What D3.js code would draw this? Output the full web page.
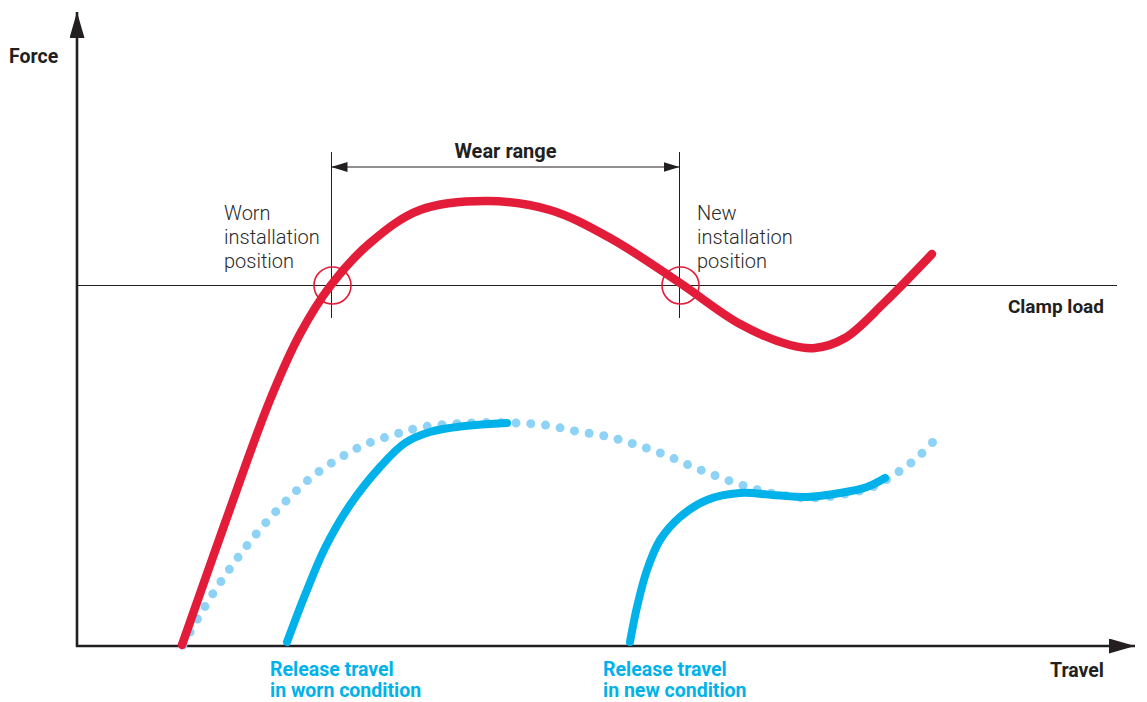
<!DOCTYPE html>
<html><head><meta charset="utf-8">
<script src="https://cdn.jsdelivr.net/npm/d3@7"></script>
<style>
html,body{margin:0;padding:0;background:#fff;}
text{font-family:Roboto,"Open Sans",sans-serif;}
</style></head>
<body>
<svg id="chart" width="1147" height="702"></svg>
<script>
// Values (arbitrary travel / force units)
const clampForceCurve = [[10.5,0.1],[14.8,12.3],[19.3,24.6],[22.3,31.2],[25.4,36.1],[29.3,40.3],[34.3,43.6],[41.0,44.5],[47.3,43.6],[53.3,40.8],[60.3,36.3],[66.3,32.2],[71.3,30.1],[73.8,29.8],[76.8,30.8],[80.8,34.4],[85.5,39.2]];
const releaseWorn = [[21.0,0.4],[22.8,5.1],[24.8,9.8],[27.3,14.1],[30.3,17.9],[32.8,20.3],[35.3,21.4],[38.8,22.0],[43.0,22.3]];
const releaseNew = [[55.3,0.4],[56.0,3.9],[57.0,7.6],[58.3,10.6],[60.3,12.9],[63.0,14.6],[66.3,15.3],[69.6,15.1],[73.0,14.9],[76.3,15.3],[79.0,15.9],[80.8,16.8]];
const releaseFull = [[10.6,0.1],[12.1,2.8],[13.7,5.4],[15.4,7.9],[17.2,10.3],[19.2,12.7],[21.3,14.9],[23.6,17.0],[26.1,18.7],[28.7,20.1],[31.6,21.1],[34.6,21.9],[39.3,22.3],[43.8,22.3],[46.8,22.1],[49.8,21.5],[52.8,21.0],[55.7,20.2],[58.6,19.2],[61.4,18.0],[64.2,16.9],[67.1,15.9],[69.8,15.2],[73.3,14.8],[76.8,15.2],[79.8,16.0],[81.8,17.2],[83.0,18.0],[84.2,19.0],[85.6,20.4]];
const clampLoad = 36.05;
const wearRange = [25.45, 60.25];
const wearMarkTop = 49.4, wearMarkBottom = 32.8, wearArrowLevel = 47.9;
const axisTitles = {x:"Travel", y:"Force"};
const labelClamp = "Clamp load";
const labelWear = "Wear range";
const labelWorn = ["Worn","installation","position"];
const labelNew = ["New","installation","position"];
const labelRelWorn = ["Release travel","in worn condition"];
const labelRelNew = ["Release travel","in new condition"];

const RED="#e31c39", BLUE="#00b2e9", LBLUE="#8ed3f5", INK="#231f20";
const svg = d3.select("#chart");
const x = d3.scaleLinear().domain([0,105.8]).range([77,1135]);
const y = d3.scaleLinear().domain([0,63.4]).range([646,12]);

const defs = svg.append("defs");
function marker(id, w, h){
  defs.append("marker").attr("id",id).attr("viewBox",`0 0 ${w} ${h}`)
    .attr("refX",w).attr("refY",h/2).attr("markerWidth",w).attr("markerHeight",h)
    .attr("markerUnits","userSpaceOnUse").attr("orient","auto-start-reverse")
    .append("path").attr("d",`M0,0L${w},${h/2}L0,${h}Z`).attr("fill",INK);
}
marker("axArrow",26,15);
marker("smArrow",16,10);

// axes
svg.append("line").attr("x1",x(0)).attr("y1",y(0)+1).attr("x2",x(0)).attr("y2",y(63.4))
  .attr("stroke",INK).attr("stroke-width",2.6).attr("marker-end","url(#axArrow)");
svg.append("line").attr("x1",x(0)-1).attr("y1",y(0)).attr("x2",x(105.8)).attr("y2",y(0))
  .attr("stroke",INK).attr("stroke-width",2.6).attr("marker-end","url(#axArrow)");

// clamp load line
svg.append("line").attr("x1",x(0)).attr("x2",x(104)).attr("y1",y(clampLoad)).attr("y2",y(clampLoad))
  .attr("stroke",INK).attr("stroke-width",1.2);

// wear range markers
wearRange.forEach(v=>{
  svg.append("line").attr("x1",x(v)).attr("x2",x(v)).attr("y1",y(wearMarkTop)).attr("y2",y(wearMarkBottom))
    .attr("stroke",INK).attr("stroke-width",1);
});
svg.append("line").attr("x1",x(wearRange[0])).attr("x2",x(wearRange[1]))
  .attr("y1",y(wearArrowLevel)).attr("y2",y(wearArrowLevel))
  .attr("stroke",INK).attr("stroke-width",1.2)
  .attr("marker-start","url(#smArrow)").attr("marker-end","url(#smArrow)");

const line = d3.line().x(d=>x(d[0])).y(d=>y(d[1])).curve(d3.curveCatmullRom.alpha(0.5));

svg.append("path").attr("d",line(releaseFull)).attr("fill","none").attr("stroke",LBLUE)
  .attr("stroke-width",9).attr("stroke-linecap","round").attr("stroke-dasharray","0 14.8");
svg.append("path").attr("d",line(clampForceCurve)).attr("fill","none").attr("stroke",RED)
  .attr("stroke-width",8.5).attr("stroke-linecap","round");
[releaseWorn, releaseNew].forEach(d=>{
  svg.append("path").attr("d",line(d)).attr("fill","none").attr("stroke",BLUE)
    .attr("stroke-width",8).attr("stroke-linecap","round");
});

// intersection circles
wearRange.forEach(v=>{
  svg.append("circle").attr("cx",x(v)+1).attr("cy",y(clampLoad)).attr("r",18.5)
    .attr("fill","none").attr("stroke",RED).attr("stroke-width",1.6);
});

// texts
function txt(s,px,py,opts={}){
  return svg.append("text").attr("x",px).attr("y",py).text(s)
    .attr("font-size",opts.size||19.5).attr("font-weight",opts.weight||700)
    .attr("fill",opts.fill||INK).attr("text-anchor",opts.anchor||"start");
}
txt(axisTitles.y,9,63);
txt(axisTitles.x,1104,677,{anchor:"end"});
txt(labelClamp,1104,313,{anchor:"end",size:19});
txt(labelWear,(x(wearRange[0])+x(wearRange[1]))/2,158,{anchor:"middle",size:20});
labelWorn.forEach((s,i)=>txt(s,224,220+i*24,{weight:300,size:20,fill:"#2a2a2a"}));
labelNew.forEach((s,i)=>txt(s,697,220+i*24,{weight:300,size:20,fill:"#2a2a2a"}));
labelRelWorn.forEach((s,i)=>txt(s,270,676+i*21,{fill:BLUE}));
labelRelNew.forEach((s,i)=>txt(s,603,676+i*21,{fill:BLUE}));
</script>
</body></html>
